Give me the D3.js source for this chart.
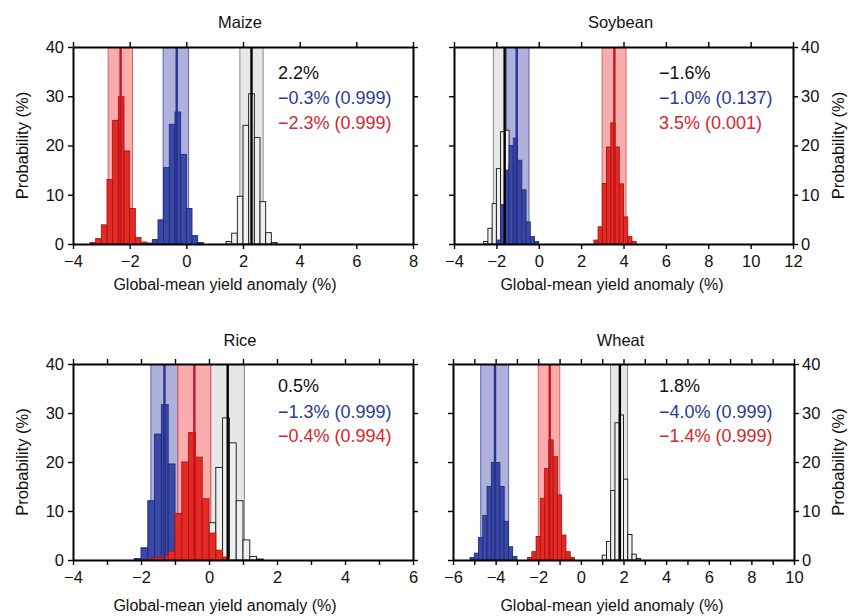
<!DOCTYPE html>
<html lang="en">
  <head>
    <meta charset="utf-8" />
    <title>Global-mean yield anomaly</title>
    <script src="https://cdn.jsdelivr.net/npm/d3@7"></script>
    <style>
      body { margin: 0; background: #fff; }
      text { font-family: "Liberation Sans", Arial, sans-serif; fill: #111; }
    </style>
  </head>
  <body>
    <svg id="chart" width="851" height="616"></svg>
    <script>
      // panel order: Maize, Soybean, Rice, Wheat
      const crops = ["Maize", "Soybean", "Rice", "Wheat"];
      const xDomains = [[-4, 8], [-4, 12], [-4, 6], [-6, 10]];
      const xTickStep = [2, 2, 1, 1];
      const yTicks = [0, 10, 20, 30, 40];
      const binWidth = 0.2;

      // histograms: left edge of first bin, then probability (%) per bin
      const grayStart = [1.4, -2.6, -0.4, 1.0];
      const grayProb = [
        [0.5, 2.2, 9.7, 24.1, 30.5, 21.6, 8.6, 2.3, 0.3],
        [0.5, 3.2, 8.2, 15.3, 22.8, 23.1, 16, 7.5, 2.5, 0.9],
        [0.8, 2.5, 7.6, 18.9, 29, 23.9, 12.1, 4.1, 0.7, 0.2],
        [1.0, 3.8, 14.2, 28, 29.6, 16.5, 5.2, 1.2, 0.3]
      ];
      const blueStart = [-1.4, -2.0, -2.2, -5.2];
      const blueProb = [
        [0.2, 0.9, 4.9, 15.5, 24.3, 26.8, 18.2, 7.2, 1.7, 0.3],
        [0.8, 8, 15, 20, 21.5, 17, 11, 4.5, 1.5, 0.5],
        [0.3, 2.5, 12.1, 25.7, 31.7, 19.6, 6, 1.5, 0.4],
        [0.5, 1.4, 4.6, 9.1, 15, 19.9, 19.9, 15, 7.9, 2.7, 0.7]
      ];
      const redStart = [-3.4, 2.6, -1.8, -2.5];
      const redProb = [
        [0.3, 1.1, 3.9, 13.1, 25.1, 29.9, 18.9, 7.2, 1.3, 0.4],
        [0.8, 3.5, 12.3, 19.7, 24.6, 19.7, 12.2, 5.5, 1.5, 0.5],
        [0.3, 0.5, 1.0, 1.8, 9.5, 20, 26, 21, 12.5, 5.5, 2, 0.6],
        [0.5, 1.7, 4.8, 12.6, 18.7, 24.5, 21.1, 13.3, 5.1, 1.7, 0.5]
      ];

      // shaded ranges: [low, median, high]
      const grayBand = [[1.89, 2.3, 2.71], [-2.14, -1.61, -1.53], [0.05, 0.55, 1.04], [1.39, 1.83, 2.19]];
      const blueBand = [[-0.82, -0.34, 0.08], [-1.53, -1.04, -0.46], [-1.71, -1.31, -0.92], [-4.7, -4.03, -3.39]];
      const redBand = [[-2.76, -2.32, -1.9], [2.99, 3.57, 4.12], [-0.92, -0.43, 0.05], [-2.0, -1.46, -0.99]];

      const grayText = ["2.2%", "\u22121.6%", "0.5%", "1.8%"];
      const blueText = ["\u22120.3% (0.999)", "\u22121.0% (0.137)", "\u22121.3% (0.999)", "\u22124.0% (0.999)"];
      const redText = ["\u22122.3% (0.999)", "3.5% (0.001)", "\u22120.4% (0.994)", "\u22121.4% (0.999)"];

      const xLabel = "Global-mean yield anomaly (%)";
      const yLabel = "Probability (%)";

      // layout
      const boxes = [
        { x0: 73, x1: 413, y0: 47, y1: 244, right: false, row: 0 },
        { x0: 454, x1: 793, y0: 47, y1: 244, right: true, row: 0 },
        { x0: 73, x1: 413, y0: 364, y1: 560, right: false, row: 1 },
        { x0: 453, x1: 794, y0: 364, y1: 560, right: true, row: 1 }
      ];
      const textRows = [[72.5, 97.5, 123], [386, 411.5, 436]];

      const style = {
        gray: { fill: "#efefef", stroke: "#111", band: "rgba(170,170,170,0.28)", edge: "#8a8a8a", line: "#000" },
        blue: { fill: "#3a49a6", stroke: "#1f2b7c", band: "rgba(60,70,170,0.42)", edge: "#5a64b4", line: "#26338f" },
        red: { fill: "#e42a22", stroke: "#a8161a", band: "rgba(240,70,70,0.45)", edge: "#e06060", line: "#c8141c" }
      };

      const svg = d3.select("#chart");

      crops.forEach((crop, i) => {
        const b = boxes[i];
        const x = d3.scaleLinear().domain(xDomains[i]).range([b.x0, b.x1]);
        const y = d3.scaleLinear().domain([0, 40]).range([b.y1, b.y0]);
        const g = svg.append("g");

        const series = [
          { key: "gray", start: grayStart[i], prob: grayProb[i], band: grayBand[i] },
          { key: "blue", start: blueStart[i], prob: blueProb[i], band: blueBand[i] },
          { key: "red", start: redStart[i], prob: redProb[i], band: redBand[i] }
        ];

        // shaded ranges behind the bars
        series.forEach((s) => {
          const st = style[s.key];
          g.append("rect")
            .attr("x", x(s.band[0]))
            .attr("y", y(40))
            .attr("width", x(s.band[2]) - x(s.band[0]))
            .attr("height", y(0) - y(40))
            .attr("fill", st.band);
          [s.band[0], s.band[2]].forEach((v) => {
            g.append("line")
              .attr("x1", x(v)).attr("x2", x(v))
              .attr("y1", y(0)).attr("y2", y(40))
              .attr("stroke", st.edge)
              .attr("stroke-width", 1);
          });
        });

        // histogram bars
        series.forEach((s) => {
          const st = style[s.key];
          g.append("g")
            .selectAll("rect")
            .data(s.prob)
            .join("rect")
            .attr("x", (d, j) => x(s.start + j * binWidth))
            .attr("width", x(binWidth) - x(0))
            .attr("y", (d) => y(d))
            .attr("height", (d) => y(0) - y(d))
            .attr("fill", st.fill)
            .attr("stroke", st.stroke)
            .attr("stroke-width", 0.9);
        });

        // median lines
        series.forEach((s) => {
          g.append("line")
            .attr("x1", x(s.band[1])).attr("x2", x(s.band[1]))
            .attr("y1", y(0)).attr("y2", y(40))
            .attr("stroke", style[s.key].line)
            .attr("stroke-width", 2.4);
        });

        // axes
        const step = xTickStep[i];
        const xt = d3.range(xDomains[i][0], xDomains[i][1] + 0.001, step);
        const fmt = (d) => (d % 2 === 0 ? d3.format("d")(d) : "");
        const bottom = g.append("g")
          .attr("transform", `translate(0,${b.y1})`)
          .call(d3.axisBottom(x).tickValues(xt).tickFormat(fmt).tickSizeInner(5).tickSizeOuter(0).tickPadding(6));
        const top = g.append("g")
          .attr("transform", `translate(0,${b.y0})`)
          .call(d3.axisTop(x).tickValues(xt).tickFormat("").tickSizeInner(5).tickSizeOuter(0));
        const left = g.append("g")
          .attr("transform", `translate(${b.x0},0)`)
          .call(d3.axisLeft(y).tickValues(yTicks).tickFormat(b.right ? "" : d3.format("d")).tickSizeInner(5).tickSizeOuter(0).tickPadding(4));
        const right = g.append("g")
          .attr("transform", `translate(${b.x1},0)`)
          .call(d3.axisRight(y).tickValues(yTicks).tickFormat(b.right ? d3.format("d") : "").tickSizeInner(5).tickSizeOuter(0).tickPadding(3));

        [bottom, top, left, right].forEach((a) => {
          a.select(".domain").attr("stroke", "#000").attr("stroke-width", 2);
          a.selectAll(".tick line").attr("stroke", "#000").attr("stroke-width", 1.4);
          a.selectAll(".tick text").style("font-size", "16.5px").attr("fill", "#111");
        });

        // titles
        const cx = (b.x0 + b.x1) / 2;
        g.append("text")
          .attr("x", cx - 3)
          .attr("y", b.row === 0 ? 28 : 346)
          .attr("text-anchor", "middle")
          .style("font-size", "16.5px")
          .text(crop);
        g.append("text")
          .attr("x", b.right ? 612 : 225)
          .attr("y", b.row === 0 ? 290 : 611)
          .attr("text-anchor", "middle")
          .style("font-size", "16px")
          .text(xLabel);
        const ly = (b.y0 + b.y1) / 2;
        const lx = b.right ? 838 : 22;
        g.append("text")
          .attr("transform", `translate(${lx},${ly}) rotate(-90)`)
          .attr("text-anchor", "middle")
          .attr("dy", "0.35em")
          .style("font-size", "16.5px")
          .text(yLabel);

        // annotation lines
        const tx = b.right ? 659 : 278;
        const rows = textRows[b.row];
        [[grayText[i], "#111"], [blueText[i], "#2c3a93"], [redText[i], "#d8262a"]].forEach(([t, c], k) => {
          g.append("text")
            .attr("x", tx)
            .attr("y", rows[k])
            .attr("dy", "0.35em")
            .style("font-size", "18px")
            .style("fill", c)
            .text(t);
        });
      });
    </script>
  </body>
</html>
